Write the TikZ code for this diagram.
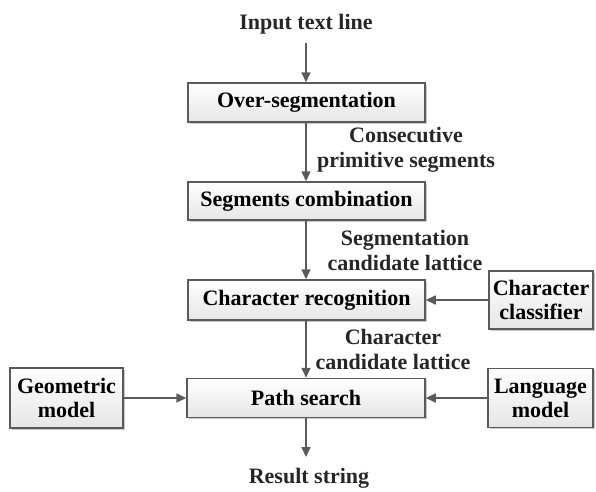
\documentclass[tikz,border=0pt]{standalone}
\usepackage{fontspec}
\setmainfont{Liberation Serif}
\usetikzlibrary{arrows.meta,shadows}
\definecolor{linegray}{HTML}{5A5A5A}
\definecolor{boxbot}{HTML}{E6E6E6}
\tikzset{
  procbox/.style={draw=linegray, line width=1.5pt, top color=white, bottom color=boxbot,
    inner sep=0pt, align=center, font=\bfseries\fontsize{22}{24}\selectfont,
    drop shadow={shadow xshift=1.6pt, shadow yshift=-1.6pt, fill=black!35, opacity=0.6}},
  lbl/.style={align=center, inner sep=0pt, font=\bfseries\fontsize{22}{25}\selectfont, text=black!85},
  flow/.style={draw=linegray, line width=1.6pt, -{Triangle[length=10pt,width=9pt]}}
}
\begin{document}
\begin{tikzpicture}[x=1pt,y=-1pt]
\useasboundingbox (0,0) rectangle (596,491);
\node[lbl] (in) at (306,24) {Input text line};
\node[procbox, minimum width=237pt, minimum height=39pt] (ov) at (306.5,102.5) {Over-segmentation};
\node[procbox, minimum width=237pt, minimum height=38pt] (sc) at (306.5,201) {Segments combination};
\node[procbox, minimum width=237pt, minimum height=40pt] (cr) at (306.5,300) {Character recognition};
\node[procbox, minimum width=238pt, minimum height=39pt] (ps) at (306,398) {Path search};
\node[procbox, minimum width=104pt, minimum height=58pt] (cc) at (541,300) {Character\\classifier};
\node[procbox, minimum width=113pt, minimum height=60pt] (gm) at (66.5,398) {Geometric\\model};
\node[procbox, minimum width=105pt, minimum height=59pt] (lm) at (540.5,398) {Language\\model};
\node[lbl] (out) at (309,478) {Result string};
\node[lbl] (l1) at (406,150) {Consecutive\\primitive segments};
\node[lbl] (l2) at (405,250) {Segmentation\\candidate lattice};
\node[lbl] (l3) at (393,349) {Character\\candidate lattice};
\coordinate (a0) at (306,43);
\draw[flow] (a0) -- (ov.north -| a0);
\draw[flow] (ov.south -| a0) -- (sc.north -| a0);
\draw[flow] (sc.south -| a0) -- (cr.north -| a0);
\draw[flow] (cr.south -| a0) -- (ps.north -| a0);
\coordinate (a5) at (306,457);
\draw[flow] (ps.south -| a5) -- (a5);
\draw[flow] (cc.west) -- (cr.east);
\draw[flow] (gm.east) -- (ps.west |- gm.east);
\draw[flow] (lm.west) -- (ps.east |- lm.west);
\end{tikzpicture}
\end{document}
